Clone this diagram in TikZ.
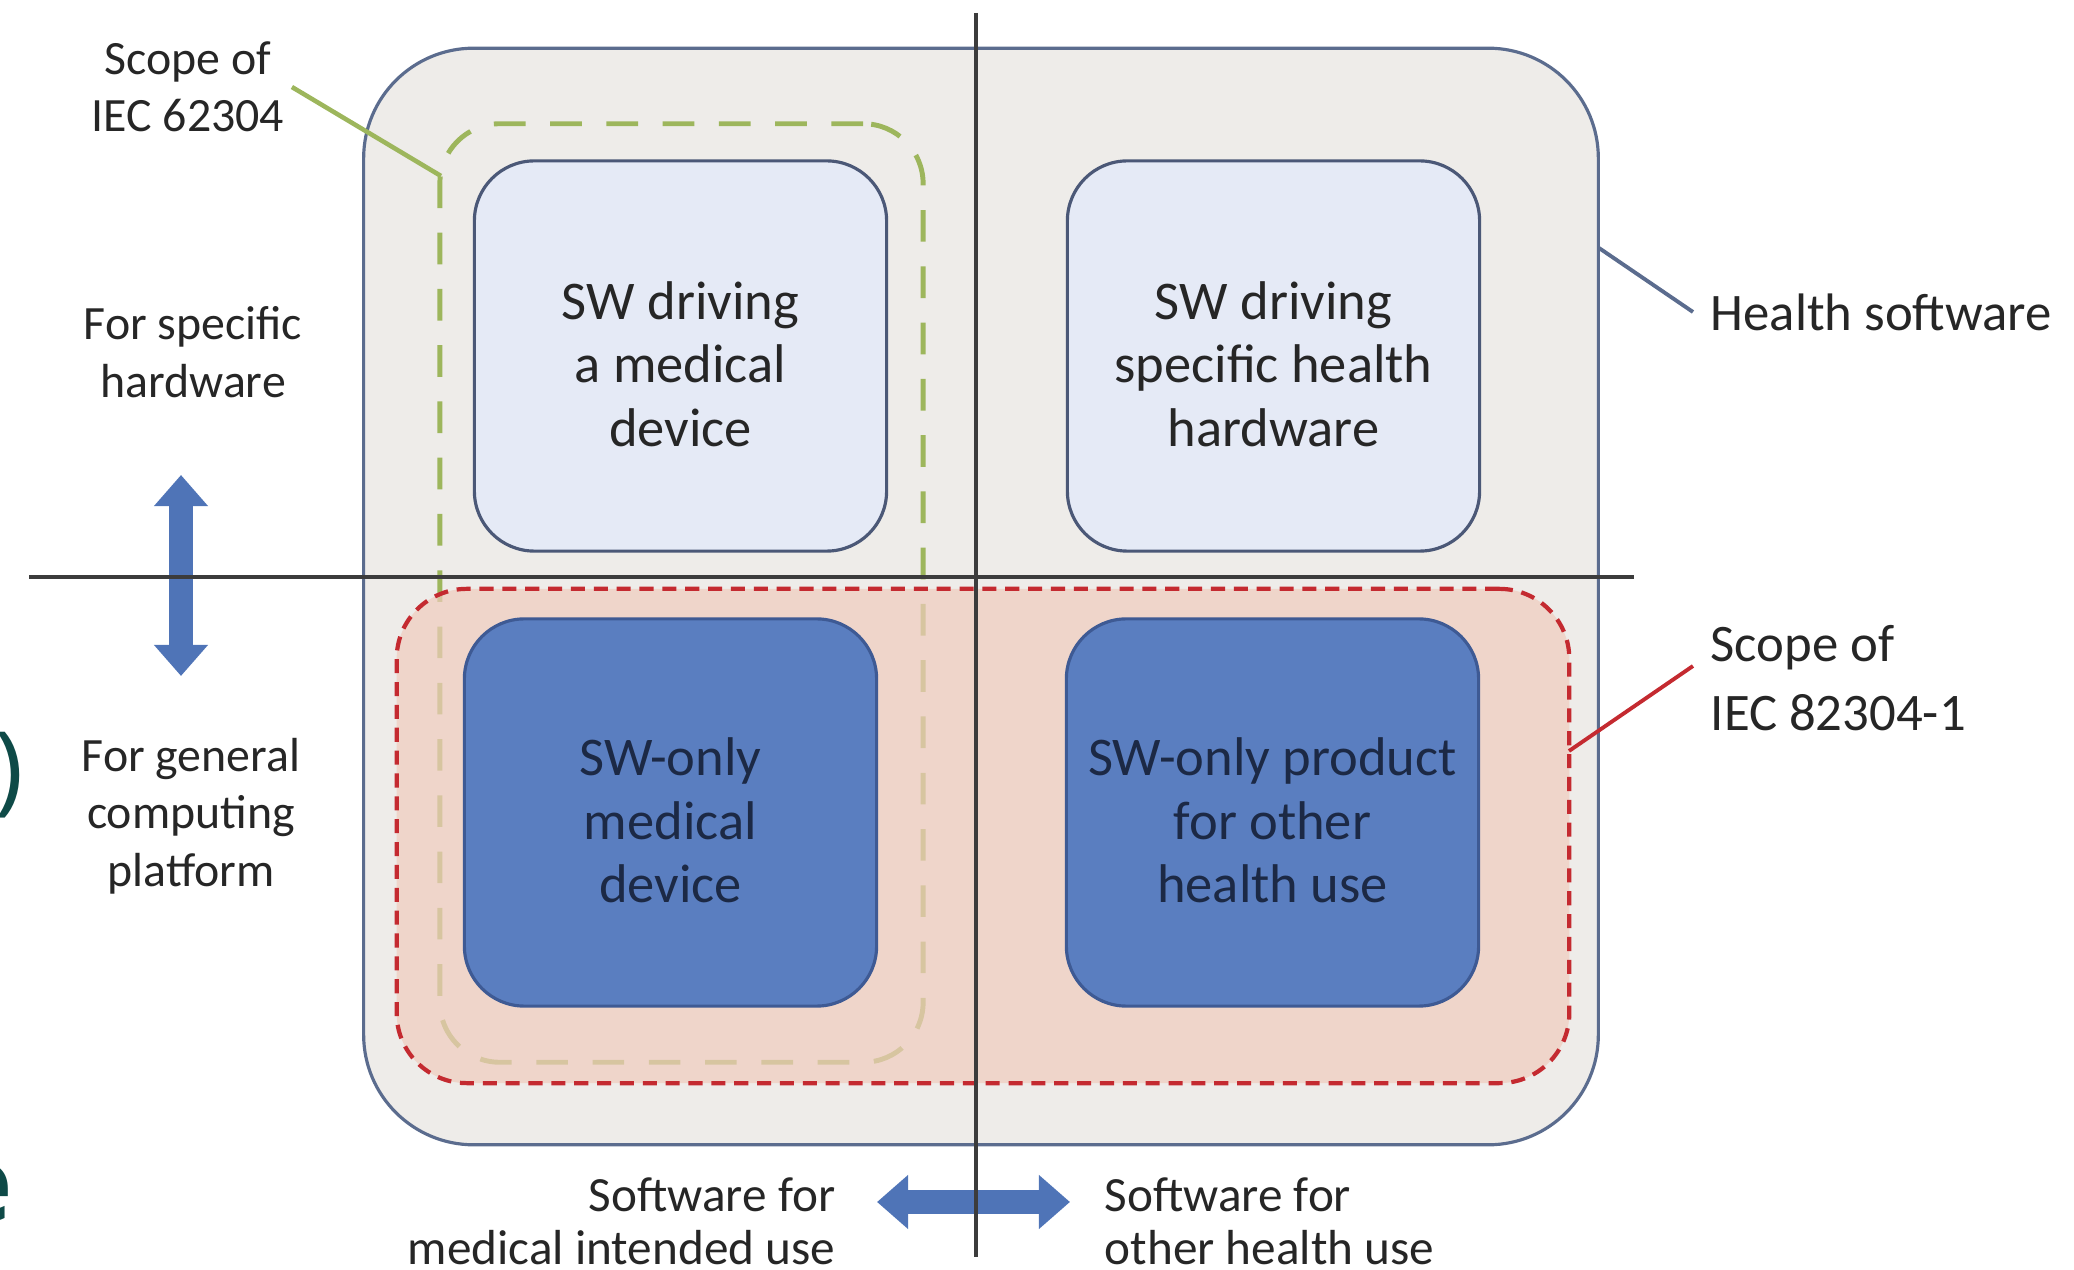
\documentclass[tikz,border=0pt]{standalone}
\usepackage{fontspec}
\setmainfont{Carlito}
\newfontfamily\fragfont{Open Sans}
\usetikzlibrary{arrows.meta}
\definecolor{hsfill}{HTML}{EEECE9}
\definecolor{hsline}{HTML}{5B6C8E}
\definecolor{lightbox}{HTML}{E5EAF6}
\definecolor{lightline}{HTML}{4B5877}
\definecolor{darkbox}{HTML}{5A7EC0}
\definecolor{darkline}{HTML}{3E5A94}
\definecolor{scopegreen}{HTML}{9DB65C}
\definecolor{scopered}{HTML}{C42A30}
\definecolor{scopepink}{HTML}{F0CCBE}
\definecolor{arrowblue}{HTML}{4F74B7}
\definecolor{divgray}{HTML}{3C3C3C}
\definecolor{labelgray}{HTML}{262626}
\definecolor{navytext}{HTML}{1C2945}
\definecolor{fragteal}{HTML}{0E4A47}
\tikzset{
  quadbox/.style={draw=lightline, fill=lightbox, line width=0.9pt, rounded corners=0.6cm,
    minimum width=4.12cm, minimum height=3.9cm},
  swonly/.style={quadbox, draw=darkline, fill=darkbox, minimum height=3.87cm},
  boxtext/.style={align=center, text=labelgray, font=\fontsize{15.5}{18}\selectfont},
  swtext/.style={boxtext, text=navytext},
  sidelabel/.style={align=center, text=labelgray, inner sep=2pt, font=\fontsize{13.6}{16.3}\selectfont},
  scopelabel/.style={align=left, anchor=west, text=labelgray, inner sep=2pt, font=\fontsize{15}{19.5}\selectfont},
  uselabel/.style={text=labelgray, inner sep=2pt, font=\fontsize{14}{15}\selectfont},
  fatarrow/.style={arrowblue, line width=0.24cm, {Triangle[width=0.52cm,length=0.31cm]}-{Triangle[width=0.52cm,length=0.31cm]}},
  divider/.style={divgray, line width=1pt},
  fragtext/.style={text=fragteal, inner sep=0pt, anchor=east},
}
\begin{document}
\begin{tikzpicture}[x=0.01cm, y=-0.01cm]
\useasboundingbox (0,0) rectangle (2074,1270);
\begin{scope}
\clip (0,0) rectangle (2074,1270);
\node[fragtext, font=\fragfont\fontsize{28}{28}\selectfont] (fragparen) at (24,775) {)};
\node[fragtext, font=\fragfont\bfseries\fontsize{30}{30}\selectfont] (frage) at (14,1193) {e};
\end{scope}

\node[draw=hsline, fill=hsfill, line width=0.9pt, rounded corners=1.1cm,
  minimum width=12.34cm, minimum height=10.96cm] (health) at (981,596.5) {};
\node[draw=scopegreen, line width=1.4pt, dash pattern=on 9pt off 7pt, rounded corners=0.6cm,
  minimum width=4.83cm, minimum height=9.38cm] (s62304) at (681.5,593) {};
\node[quadbox] (medhw) at (680.5,356) {};
\node[quadbox] (healthhw) at (1273.5,356) {};
\node[boxtext] (medhwtxt) at ([yshift=-0.08cm]medhw.center) {SW driving\\a medical\\device};
\node[boxtext] (healthhwtxt) at ([yshift=-0.08cm]healthhw.center) {SW driving\\specific health\\hardware};
\node[fill=scopepink, fill opacity=0.7, draw=scopered, line width=1.2pt, dash pattern=on 4pt off 2.5pt,
  rounded corners=0.7cm, minimum width=11.72cm, minimum height=4.94cm] (s82304) at (983,836) {};
\node[swonly] (mdonly) at (670.5,812.5) {};
\node[swonly] (hponly) at (1272.5,812.5) {};
\node[swtext] (mdonlytxt) at ([yshift=-0.08cm]mdonly.center) {SW-only\\medical\\device};
\node[swtext] (hponlytxt) at ([yshift=-0.08cm]hponly.center) {SW-only product\\for other\\health use};

\node[sidelabel] (lbl62304) at (188,87) {Scope of\\IEC 62304};
\node[sidelabel] (specifichw) at (193,352) {For specific\\hardware};
\node[sidelabel] (generalpf) at (191,816) {For general\\computing\\platform};
\node[scopelabel] (lblhealth) at (1703,312) {Health software};
\node[scopelabel] (lbl82304) at (1703,678) {Scope of\\IEC 82304-1};
\node[uselabel, align=right, anchor=east] (medusel) at (843,1221) {Software for\\medical intended use};
\node[uselabel, align=left, anchor=west] (othusel) at (1097,1221) {Software for\\other health use};

\coordinate (hwend) at (181,475);
\coordinate (gpend) at (181,676);
\coordinate (meduse) at (877,1202);
\coordinate (othuse) at (1070,1202);
\draw[fatarrow] (hwend) -- (gpend);
\draw[fatarrow, line width=0.23cm] (meduse) -- (othuse);

\coordinate (vtop) at (976,13);
\coordinate (vbot) at (976,1257);
\coordinate (hleft) at (29,577);
\coordinate (hright) at (1634,577);
\draw[divider] (vtop) -- (vbot);
\draw[divider] (hleft) -- (hright);

\coordinate (g62304) at (441,176);
\coordinate (hsedge) at (1599,248);
\coordinate (redge) at (1569,751);
\draw[scopegreen, line width=1.3pt] (lbl62304.east) -- (g62304);
\draw[hsline, line width=1.1pt] (hsedge) -- ([xshift=-0.1cm]lblhealth.west);
\draw[scopered, line width=1.1pt] (redge) -- ([xshift=-0.1cm,yshift=0.12cm]lbl82304.west);
\end{tikzpicture}
\end{document}
